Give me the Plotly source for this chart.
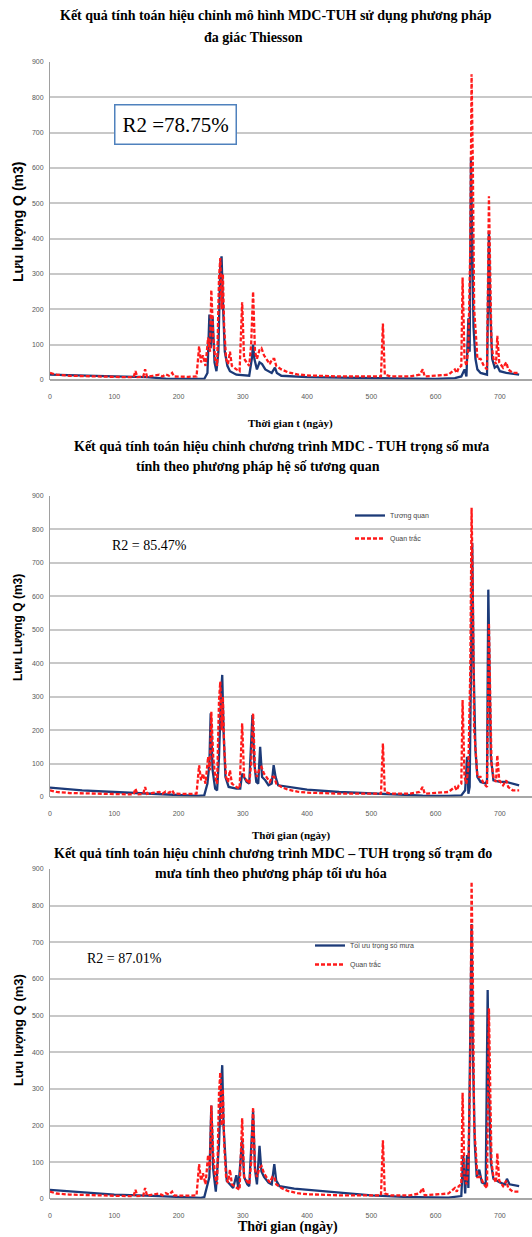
import plotly.graph_objects as go

W, H = 532, 1237

# ---------------- data ----------------
days_obs = [0, 10, 30, 60, 100, 120, 130, 133, 136, 145, 148, 151, 160, 170, 175, 180, 185, 190, 193, 200, 215, 228,
            232, 235, 238, 242, 246, 249, 251, 254, 257, 260, 263, 265, 267, 269, 271, 274, 277, 280, 283, 290, 295,
            299, 302, 306, 310, 313, 316, 319, 322, 326, 329, 333, 338, 342, 346, 349, 352, 360, 370, 385, 400, 450,
            500, 515, 518, 521, 530, 560, 575, 580, 583, 600, 620, 630, 633, 636, 640, 642, 645, 648, 651, 654, 656,
            658, 660, 663, 665, 670, 675, 680, 683, 685, 687, 690, 694, 696, 699, 705, 710, 713, 720, 730]
q_obs = [20, 15, 12, 10, 9, 8, 8, 25, 8, 9, 30, 9, 12, 15, 10, 16, 12, 20, 10, 9, 9, 10,
         95, 50, 70, 40, 120, 80, 255, 120, 60, 40, 290, 345, 200, 300, 150, 60, 45, 80, 40, 30, 25,
         220, 60, 50, 40, 100, 250, 80, 60, 85, 90, 70, 55, 45, 60, 60, 40, 30, 22, 16, 13, 10,
         10, 10, 160, 15, 10, 10, 15, 30, 10, 12, 15, 30, 20, 35, 40, 290, 60, 40, 90, 380, 865,
         600, 200, 120, 60, 60, 40, 30, 520, 300, 100, 60, 45, 125, 50, 35, 50, 30, 20, 20]

days_thiessen = [0, 30, 100, 150, 180, 240, 245, 248, 250, 253, 256, 259, 262, 265, 267, 269, 272, 276, 280, 290,
                 310, 314, 316, 318, 322, 326, 330, 335, 345, 350, 353, 360, 400, 450, 500, 550, 600, 630, 640, 645,
                 648, 651, 653, 655, 657, 659, 662, 665, 670, 680, 683, 685, 688, 692, 696, 700, 710, 730]
q_thiessen = [15, 13, 10, 8, 4, 3, 20, 185, 90, 180, 50, 25, 80, 330, 350, 220, 80, 40, 25, 15,
              12, 60, 100, 60, 30, 50, 45, 30, 20, 35, 20, 12, 8, 7, 5, 3, 3, 5, 10, 30,
              10, 175, 80, 630, 400, 150, 60, 30, 20, 15, 420, 200, 60, 35, 40, 25, 20, 15]

days_corr = [0, 50, 100, 150, 200, 230, 240, 245, 248, 250, 253, 257, 260, 263, 266, 268, 270, 273, 278, 290, 296,
             299, 302, 306, 310, 313, 315, 318, 321, 324, 327, 330, 335, 340, 345, 348, 351, 355, 370, 400, 450,
             500, 520, 550, 580, 620, 640, 646, 649, 651, 653, 655, 657, 659, 662, 665, 670, 678, 680, 682, 684,
             686, 690, 700, 710, 720, 730]
q_corr = [28, 20, 15, 10, 5, 3, 5, 40, 100, 250, 80, 25, 20, 120, 300, 365, 200, 60, 30, 25, 25,
          70, 60, 45, 40, 150, 245, 100, 45, 40, 150, 60, 50, 35, 40, 95, 60, 35, 30, 22, 15,
          10, 8, 5, 4, 3, 5, 20, 120, 10, 30, 380, 760, 400, 140, 60, 45, 40, 50, 620, 400,
          120, 50, 45, 45, 40, 35]

days_opt = [0, 50, 100, 150, 200, 235, 240, 248, 251, 254, 258, 263, 266, 268, 270, 275, 285, 290, 293, 299, 302,
            307, 310, 314, 316, 319, 322, 326, 329, 333, 340, 345, 349, 352, 357, 380, 400, 450, 500, 550, 580,
            620, 640, 643, 646, 649, 651, 654, 656, 658, 661, 664, 668, 672, 678, 681, 683, 686, 690, 700, 708,
            711, 715, 730]
q_opt = [25, 18, 12, 9, 5, 3, 5, 60, 255, 80, 20, 150, 300, 365, 200, 50, 30, 65, 30, 160, 60,
         40, 35, 150, 240, 80, 40, 145, 75, 60, 45, 40, 95, 50, 35, 28, 25, 17, 10, 6, 5,
         4, 8, 120, 15, 120, 30, 380, 750, 400, 150, 60, 80, 45, 40, 570, 300, 100, 55, 45, 40,
         55, 40, 35]

x_ticks = [0, 100, 200, 300, 400, 500, 600, 700]
y_ticks = [0, 100, 200, 300, 400, 500, 600, 700, 800, 900]

titles = [
    ["Kết quả tính toán hiệu chỉnh mô hình MDC-TUH sử dụng phương pháp", "đa giác Thiesson"],
    ["Kết quả tính toán hiệu chỉnh chương trình MDC - TUH trọng số mưa", "tính theo phương pháp hệ số tương quan"],
    ["Kết quả tính toán hiệu chỉnh chương trình MDC – TUH trọng số trạm đo", "mưa tính theo phương pháp tối ưu hóa"],
]
x_titles = ["Thời gian t (ngày)", "Thời gian (ngày)", "Thời gian (ngày)"]
y_titles = ["Lưu lượng Q (m3)", "Lưu Lượng Q (m3)", "Lưu lượng Q (m3)"]
r2_texts = ["R2 =78.75%", "R2 = 85.47%", "R2 = 87.01%"]
sim_names = [None, "Tương quan", "Tối ưu trọng số mưa"]
obs_name = "Quan trắc"

# ---------------- layout helpers ----------------
def px(x):
    return x / W

def py(y):
    return 1 - y / H

BLUE = "#1c3a78"
RED = "#ff1a1a"
SERIF = "Liberation Serif"
SANS = "Liberation Sans"

panels = [  # (top px, bottom px)
    (62, 380),
    (496, 797),
    (869, 1199),
]

fig = go.Figure()

sims = [(days_thiessen, q_thiessen), (days_corr, q_corr), (days_opt, q_opt)]
for i in range(3):
    xa = "x" if i == 0 else f"x{i+1}"
    ya = "y" if i == 0 else f"y{i+1}"
    leg = None if i == 0 else f"legend{i+1}"
    d, q = sims[i]
    sim_kw = dict(x=d, y=q, mode="lines", line=dict(color=BLUE, width=2.3),
                  xaxis=xa, yaxis=ya, hoverinfo="skip")
    obs_kw = dict(x=days_obs, y=q_obs, mode="lines", line=dict(color=RED, width=2.3, dash="4px,2px"),
                  xaxis=xa, yaxis=ya, hoverinfo="skip")
    if leg is None:
        fig.add_trace(go.Scatter(showlegend=False, **sim_kw))
        fig.add_trace(go.Scatter(showlegend=False, **obs_kw))
    else:
        fig.add_trace(go.Scatter(name=sim_names[i], legend=leg, legendgroup=f"s{i}", **sim_kw))
        fig.add_trace(go.Scatter(name=obs_name, legend=leg, legendgroup=f"o{i}", **obs_kw))

layout = dict(
    width=W, height=H,
    margin=dict(l=0, r=0, t=0, b=0, autoexpand=False),
    paper_bgcolor="white", plot_bgcolor="white",
    showlegend=True,
)

axis_common_x = dict(range=[0, 750], tickvals=x_ticks, showgrid=False, zeroline=False, automargin=False,
                     showline=False, ticks="", ticklabelstandoff=11,
                     tickfont=dict(family=SANS, size=7, color="#595959"),
                     domain=[px(50), 1])
axis_common_y = dict(range=[0, 900], tickvals=y_ticks, showgrid=True, gridcolor="#c8c8c8", gridwidth=1.6,
                     zeroline=False, showline=True, linecolor="#a0a0a0", linewidth=1, ticks="", automargin=False,
                     ticklabelstandoff=4,
                     tickfont=dict(family=SANS, size=7, color="#595959"))

annotations = []
shapes = []
for i, (top, bot) in enumerate(panels):
    xk = "xaxis" if i == 0 else f"xaxis{i+1}"
    yk = "yaxis" if i == 0 else f"yaxis{i+1}"
    ya = "y" if i == 0 else f"y{i+1}"
    xa = "x" if i == 0 else f"x{i+1}"
    layout[xk] = dict(axis_common_x, anchor=ya)
    layout[yk] = dict(axis_common_y, anchor=xa, domain=[py(bot), py(top)])
    # bottom axis line
    shapes.append(dict(type="line", xref="paper", yref="paper", x0=px(50), x1=1, y0=py(bot), y1=py(bot),
                       line=dict(color="#8a8a8a", width=1.5)))

# titles
title_pos = [[(276, 15), (253, 38)], [(281, 446), (258, 466)], [(273, 853), (271, 873)]]
for i in range(3):
    for j in range(2):
        x, y = title_pos[i][j]
        annotations.append(dict(text=f"<b>{titles[i][j]}</b>", x=px(x), y=py(y), xref="paper", yref="paper",
                                showarrow=False, xanchor="center", yanchor="middle",
                                font=dict(family=SERIF, size=14, color="black")))

# x-axis titles
xt_pos = [(290, 423, 11), (291, 835, 11), (288, 1227, 14)]
for i in range(3):
    x, y, s = xt_pos[i]
    annotations.append(dict(text=f"<b>{x_titles[i]}</b>", x=px(x), y=py(y), xref="paper", yref="paper",
                            showarrow=False, xanchor="center", yanchor="middle",
                            font=dict(family=SERIF, size=s, color="black")))

# y-axis titles
yt_pos = [(18, 222, 14), (18, 628, 12), (18, 1030, 13)]
for i in range(3):
    x, y, s = yt_pos[i]
    annotations.append(dict(text=f"<b>{y_titles[i]}</b>", x=px(x), y=py(y), xref="paper", yref="paper",
                            showarrow=False, xanchor="center", yanchor="middle", textangle=-90,
                            font=dict(family=SANS, size=s, color="black")))

# R2 labels
annotations.append(dict(text=r2_texts[0], x=px(175), y=py(125), xref="paper", yref="paper",
                        showarrow=False, xanchor="center", yanchor="middle",
                        font=dict(family=SERIF, size=21, color="black"),
                        bordercolor="#4f81bd", borderwidth=1.5, borderpad=7, bgcolor="white"))
annotations.append(dict(text=r2_texts[1], x=px(110), y=py(545), xref="paper", yref="paper",
                        showarrow=False, xanchor="left", yanchor="middle",
                        font=dict(family=SERIF, size=14, color="black")))
annotations.append(dict(text=r2_texts[2], x=px(85), y=py(958), xref="paper", yref="paper",
                        showarrow=False, xanchor="left", yanchor="middle",
                        font=dict(family=SERIF, size=14, color="black")))

leg_common = dict(font=dict(family=SANS, size=7, color="#444444"), bgcolor="rgba(0,0,0,0)",
                  xref="paper", yref="paper", xanchor="left", yanchor="top", itemwidth=30,
                  traceorder="grouped", tracegroupgap=4)
layout["legend2"] = dict(leg_common, x=px(350), y=py(501))
layout["legend3"] = dict(leg_common, x=px(310), y=py(931), tracegroupgap=0)

layout["annotations"] = annotations
layout["shapes"] = shapes
fig.update_layout(**layout)

fig.write_html("out.html", config={"displayModeBar": False},
               post_script="document.body.style.margin='0px';")
